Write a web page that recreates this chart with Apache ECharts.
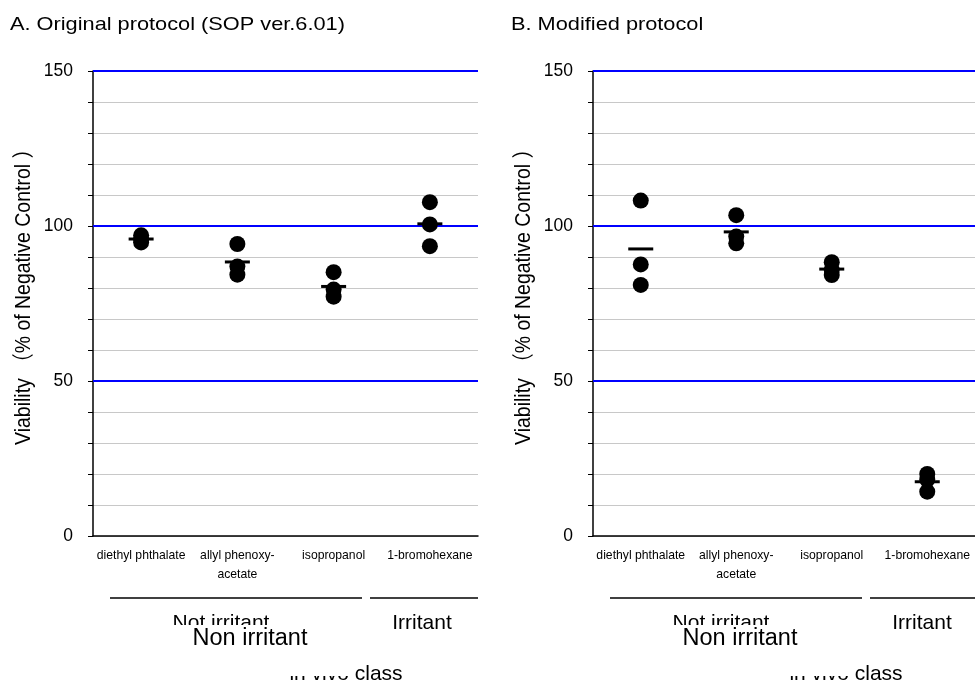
<!DOCTYPE html>
<html>
<head>
<meta charset="utf-8">
<script src="https://cdn.jsdelivr.net/npm/echarts@6/dist/echarts.min.js"></script>
<style>
  html, body { margin: 0; padding: 0; background: #fff; }
  #chart { width: 975px; height: 682px; }
</style>
</head>
<body>
<div id="chart"></div>
<script>
// 数据：四种受试物，每种三个重复 + 均值
const categories = ["diethyl phthalate", "allyl phenoxy-\nacetate", "isopropanol", "1-bromohexane"];
const yTickLabels = [0, 50, 100, 150];
const refLines = [50, 100, 150];

// A. Original protocol
const origPoints = [
  [97.0, 95.6, 94.7],
  [94.2, 86.9, 84.3],
  [85.1, 79.5, 77.2],
  [107.7, 100.5, 93.5]
];
const origMeans = [95.8, 88.4, 80.5, 100.7];

// B. Modified protocol
const modPoints = [
  [108.2, 87.6, 81.0],
  [103.5, 96.6, 94.4],
  [88.3, 85.8, 84.2],
  [20.0, 14.3, 18.2]
];
const modMeans = [92.6, 98.1, 86.1, 17.5];

const FONT = "'Liberation Sans', Arial, 'Noto Sans CJK SC', sans-serif";

const toXY = (rows) => rows.flatMap((vals, i) => vals.map(v => [i, v]));

const makeX = (idx) => ({
  gridIndex: idx,
  type: "category",
  data: categories,
  boundaryGap: true,
  axisLine: { lineStyle: { color: "#000", width: 1.5 } },
  axisTick: { show: false },
  axisLabel: {
    interval: 0, fontSize: 12.2, lineHeight: 19, margin: 10,
    color: "#000", fontFamily: FONT
  },
  splitLine: { show: false }
});

const makeY = (idx) => ({
  gridIndex: idx,
  type: "value",
  min: 0, max: 150, interval: 10,
  axisLine: { show: true, lineStyle: { color: "#000", width: 1.5 } },
  axisTick: { show: true, inside: false, length: 5, lineStyle: { color: "#000" } },
  axisLabel: {
    fontSize: 17.5, color: "#000", margin: 20, fontFamily: FONT,
    formatter: (v) => (yTickLabels.includes(v) ? String(v) : "")
  },
  splitLine: { show: true, lineStyle: { color: "#c8c8c8", width: 1 } }
});

const pointSeries = (idx, rows) => ({
  type: "scatter",
  xAxisIndex: idx, yAxisIndex: idx,
  symbol: "circle", symbolSize: 16,
  itemStyle: { color: "#000", opacity: 1 },
  data: toXY(rows),
  z: 5,
  markLine: {
    silent: true, symbol: "none", label: { show: false },
    lineStyle: { color: "#0000ff", width: 2, type: "solid", opacity: 1 },
    data: refLines.map(v => ({ yAxis: v }))
  }
});

const meanSeries = (idx, means) => ({
  type: "scatter",
  xAxisIndex: idx, yAxisIndex: idx,
  symbol: "rect", symbolSize: [25, 3],
  itemStyle: { color: "#000", opacity: 1 },
  data: means.map((v, i) => [i, v]),
  z: 6
});

const txt = (text, x, y, size, opts) => {
  const o = opts || {};
  return {
    type: "text", x, y, z: o.z || 10,
    rotation: o.rotation || 0,
    scaleX: o.scaleX || 1,
    style: {
      text, fill: "#000", fontSize: size, fontFamily: FONT,
      align: o.align || "center", verticalAlign: "middle"
    }
  };
};

const hline = (x1, x2, y) => ({
  type: "line", z: 10,
  shape: { x1, y1: y, x2, y2: y },
  style: { stroke: "#000", lineWidth: 1.5 }
});

const cover = (x, y, w, h) => ({
  type: "rect", z: 20,
  shape: { x, y, width: w, height: h },
  style: { fill: "#fff" }
});

// 每个面板的底部说明文字（偏移 dx）
const panelGraphics = (dx, nonCx) => [
  hline(110 + dx, 362 + dx, 598),
  hline(370 + dx, 478 + dx, 598),
  txt("Not irritant", 221 + dx, 623.6, 21),
  txt("Irritant", 422 + dx, 623.6, 21),
  txt("in vivo class", 346 + dx, 674.6, 21),
  cover(165 + dx, 625, 188, 51),
  txt("Non irritant", nonCx, 638.8, 23.5, { z: 30 }),
  txt("Viability （% of Negative Control ）", 24 + dx, 292, 22, { rotation: Math.PI / 2, scaleX: 0.885 })
];

const chart = echarts.init(document.getElementById("chart"), null, { renderer: "canvas" });

chart.setOption({
  animation: false,
  backgroundColor: "#fff",
  grid: [
    { left: 93, top: 71, width: 385, height: 465 },
    { left: 593, top: 71, width: 385, height: 465 }
  ],
  xAxis: [makeX(0), makeX(1)],
  yAxis: [makeY(0), makeY(1)],
  series: [
    pointSeries(0, origPoints),
    meanSeries(0, origMeans),
    pointSeries(1, modPoints),
    meanSeries(1, modMeans)
  ],
  graphic: [
    txt("A. Original protocol (SOP ver.6.01)", 10, 25.5, 17.7, { align: "left", scaleX: 1.23 }),
    txt("B. Modified protocol", 511, 25.5, 17.7, { align: "left", scaleX: 1.23 }),
    ...panelGraphics(0, 250),
    ...panelGraphics(500, 740)
  ]
});

window.addEventListener("resize", () => chart.resize());
</script>
</body>
</html>
